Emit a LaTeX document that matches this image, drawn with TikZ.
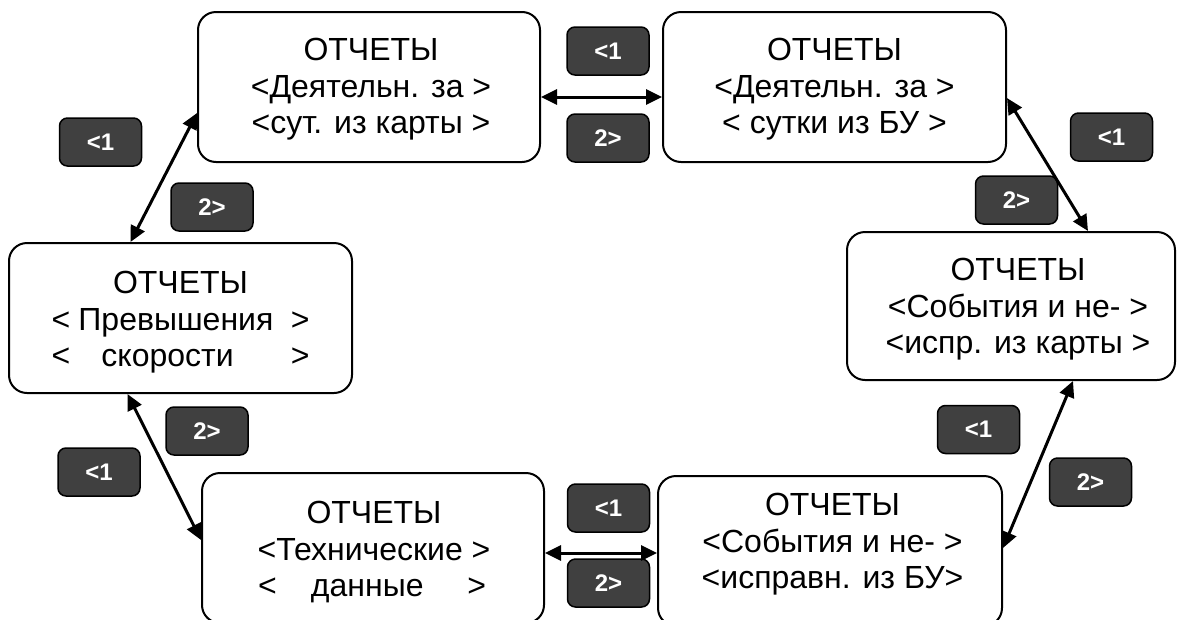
\documentclass[tikz,border=0pt]{standalone}
\usepackage{fontspec}
\setmainfont{Liberation Sans}
\usetikzlibrary{arrows.meta}
\definecolor{labelgray}{HTML}{404040}
\newcommand{\ls}{\rule[-8pt]{0pt}{36pt}}
\tikzset{
  bigbox/.style={draw=black, line width=2pt, rounded corners=18pt, fill=white,
    inner sep=0pt, minimum width=#1},
  boxtxt/.style={inner sep=0pt, align=center, font=\fontsize{32}{36.5}\selectfont},
  keylbl/.style={draw=black, line width=1.5pt, fill=labelgray, rounded corners=8pt,
    minimum width=82pt, minimum height=48pt, inner sep=0pt, text=white,
    font=\fontsize{24}{28}\selectfont\bfseries},
  dblarrow/.style={line width=3pt, {Triangle[length=16pt,width=15pt]}-{Triangle[length=16pt,width=15pt]}}
}
\begin{document}
\begin{tikzpicture}[x=1pt,y=-1pt]
\useasboundingbox (0,0) rectangle (1178,619);
\clip (0,0) rectangle (1178,619);
\fill[white] (0,0) rectangle (1178,619);

% big boxes
\node[bigbox=342pt, minimum height=150pt] (A) at (369,87) {};
\node[bigbox=343pt, minimum height=150pt] (B) at (834.5,87) {};
\node[bigbox=328pt, minimum height=148pt] (C) at (1011,306) {};
\node[bigbox=344pt, minimum height=150pt] (D) at (830,551) {};
\node[bigbox=342pt, minimum height=150pt] (E) at (373,548) {};
\node[bigbox=343pt, minimum height=150pt] (F) at (180.5,318) {};

% box texts
\node[boxtxt] (At) at (371,87) {\ls ОТЧЕТЫ\\\ls<Деятельн. за >\\\ls<сут. из карты >};
\node[boxtxt] (Bt) at (834.5,87) {\ls ОТЧЕТЫ\\\ls<Деятельн. за >\\\ls< сутки из БУ >};
\node[boxtxt] (Ct) at (1018,307) {\ls ОТЧЕТЫ\\\ls<События и не- >\\\ls<испр. из карты >};
\node[boxtxt] (Dt) at (832.5,542) {\ls ОТЧЕТЫ\\\ls<События и не- >\\\ls<исправн. из БУ>};
\node[boxtxt] (Et) at (374,550) {\ls ОТЧЕТЫ\\\ls<Технические >\\\ls\makebox[232pt]{\rlap{<}\hspace{53pt}данные\hfill\llap{>}\hspace{4pt}}};
\node[boxtxt] (Ft) at (180.5,320) {\ls ОТЧЕТЫ\\\ls\makebox[258pt]{\rlap{<}\hspace{27pt}Превышения\hfill\llap{>}}\\\ls\makebox[258pt]{\rlap{<}\hspace{50pt}скорости\hfill\llap{>}}};

% key labels
\node[keylbl] (L1) at (608,51) {<1};
\node[keylbl] (L2) at (608,138) {2>};
\node[keylbl] (L3) at (100.5,142) {<1};
\node[keylbl] (L4) at (212,207) {2>};
\node[keylbl] (L5) at (1111.5,137) {<1};
\node[keylbl] (L6) at (1016.5,200) {2>};
\node[keylbl] (L7) at (207,431) {2>};
\node[keylbl] (L8) at (99,472) {<1};
\node[keylbl] (L9) at (978.5,429.5) {<1};
\node[keylbl] (L10) at (1090.5,482) {2>};
\node[keylbl] (L11) at (608.5,508) {<1};
\node[keylbl] (L12) at (608.5,583) {2>};

% connectors
\draw[dblarrow] ([yshift=-10pt]A.east) -- ([yshift=-10pt]B.west);
\draw[dblarrow] ([yshift=-11pt]B.east) -- ([xshift=77pt]C.north);
\draw[dblarrow] ([xshift=62pt]C.south) -- ([yshift=3pt]D.east);
\draw[dblarrow] ([yshift=-5pt]E.east) -- ([yshift=-2pt]D.west);
\draw[dblarrow] ([xshift=-53pt]F.south) -- ([yshift=8pt]E.west);
\draw[dblarrow] ([xshift=-50pt]F.north) -- ([yshift=-26pt]A.west);
\end{tikzpicture}
\end{document}
